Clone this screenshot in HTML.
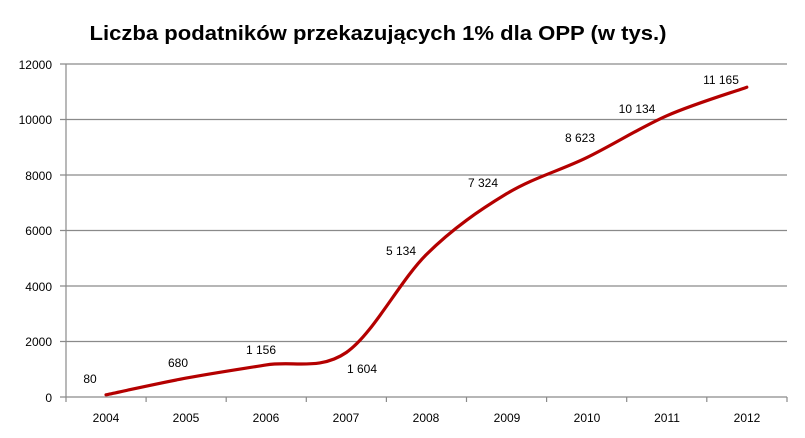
<!DOCTYPE html>
<html><head><meta charset="utf-8"><style>
html,body{margin:0;padding:0;background:#fff;}
svg{display:block;}
text{font-family:"Liberation Sans",sans-serif;fill:#000;}
</style></head><body>
<svg width="805" height="438" viewBox="0 0 805 438" xmlns="http://www.w3.org/2000/svg">
<rect width="805" height="438" fill="#fff"/>
<text x="378" y="40" text-anchor="middle" font-size="20" font-weight="bold" textLength="577" lengthAdjust="spacingAndGlyphs">Liczba podatników  przekazujących  1% dla OPP (w tys.)</text>
<g stroke="#8a8a8a" stroke-width="1.2">
<line x1="60" y1="64" x2="787" y2="64"/>
<line x1="60" y1="119.5" x2="787" y2="119.5"/>
<line x1="60" y1="175" x2="787" y2="175"/>
<line x1="60" y1="230.5" x2="787" y2="230.5"/>
<line x1="60" y1="286" x2="787" y2="286"/>
<line x1="60" y1="341.5" x2="787" y2="341.5"/>
<line x1="60" y1="397" x2="787" y2="397"/>
<line x1="66" y1="64" x2="66" y2="402"/>
<line x1="146.1" y1="397" x2="146.1" y2="402"/>
<line x1="226.2" y1="397" x2="226.2" y2="402"/>
<line x1="306.3" y1="397" x2="306.3" y2="402"/>
<line x1="386.4" y1="397" x2="386.4" y2="402"/>
<line x1="466.5" y1="397" x2="466.5" y2="402"/>
<line x1="546.6" y1="397" x2="546.6" y2="402"/>
<line x1="626.7" y1="397" x2="626.7" y2="402"/>
<line x1="706.8" y1="397" x2="706.8" y2="402"/>
<line x1="787" y1="397" x2="787" y2="402"/>
</g>
<g font-size="12" text-anchor="end">
<text x="52" y="69">12000</text>
<text x="52" y="124">10000</text>
<text x="52" y="180">8000</text>
<text x="52" y="235">6000</text>
<text x="52" y="291">4000</text>
<text x="52" y="346">2000</text>
<text x="52" y="402">0</text>
</g>
<g font-size="12" text-anchor="middle">
<text x="106" y="422">2004</text>
<text x="186" y="422">2005</text>
<text x="266" y="422">2006</text>
<text x="346" y="422">2007</text>
<text x="426" y="422">2008</text>
<text x="507" y="422">2009</text>
<text x="587" y="422">2010</text>
<text x="667" y="422">2011</text>
<text x="747" y="422">2012</text>
</g>
<path d="M106,394.8 C119.35,392.0 159.4,383.1 186.1,378.1 C212.8,373.1 239.5,369.2 266.2,364.9 C292.9,360.6 319.6,370.9 346.3,352.5 C373,334.1 399.7,281 426.4,254.5 C453.1,228 479.8,210 506.5,193.8 C533.2,177.7 559.9,170.7 586.6,157.7 C613.3,144.7 640,127.6 666.7,115.8 C693.4,104 733.45,92 746.8,87.2" fill="none" stroke="#b40000" stroke-width="3.2" stroke-linecap="round"/>
<g font-size="12" text-anchor="middle">
<text x="90" y="383">80</text>
<text x="178" y="367">680</text>
<text x="261" y="354">1 156</text>
<text x="362" y="373">1 604</text>
<text x="401" y="255">5 134</text>
<text x="483" y="187">7 324</text>
<text x="580" y="142">8 623</text>
<text x="637" y="113">10 134</text>
<text x="721" y="84">11 165</text>
</g>
</svg>
</body></html>
